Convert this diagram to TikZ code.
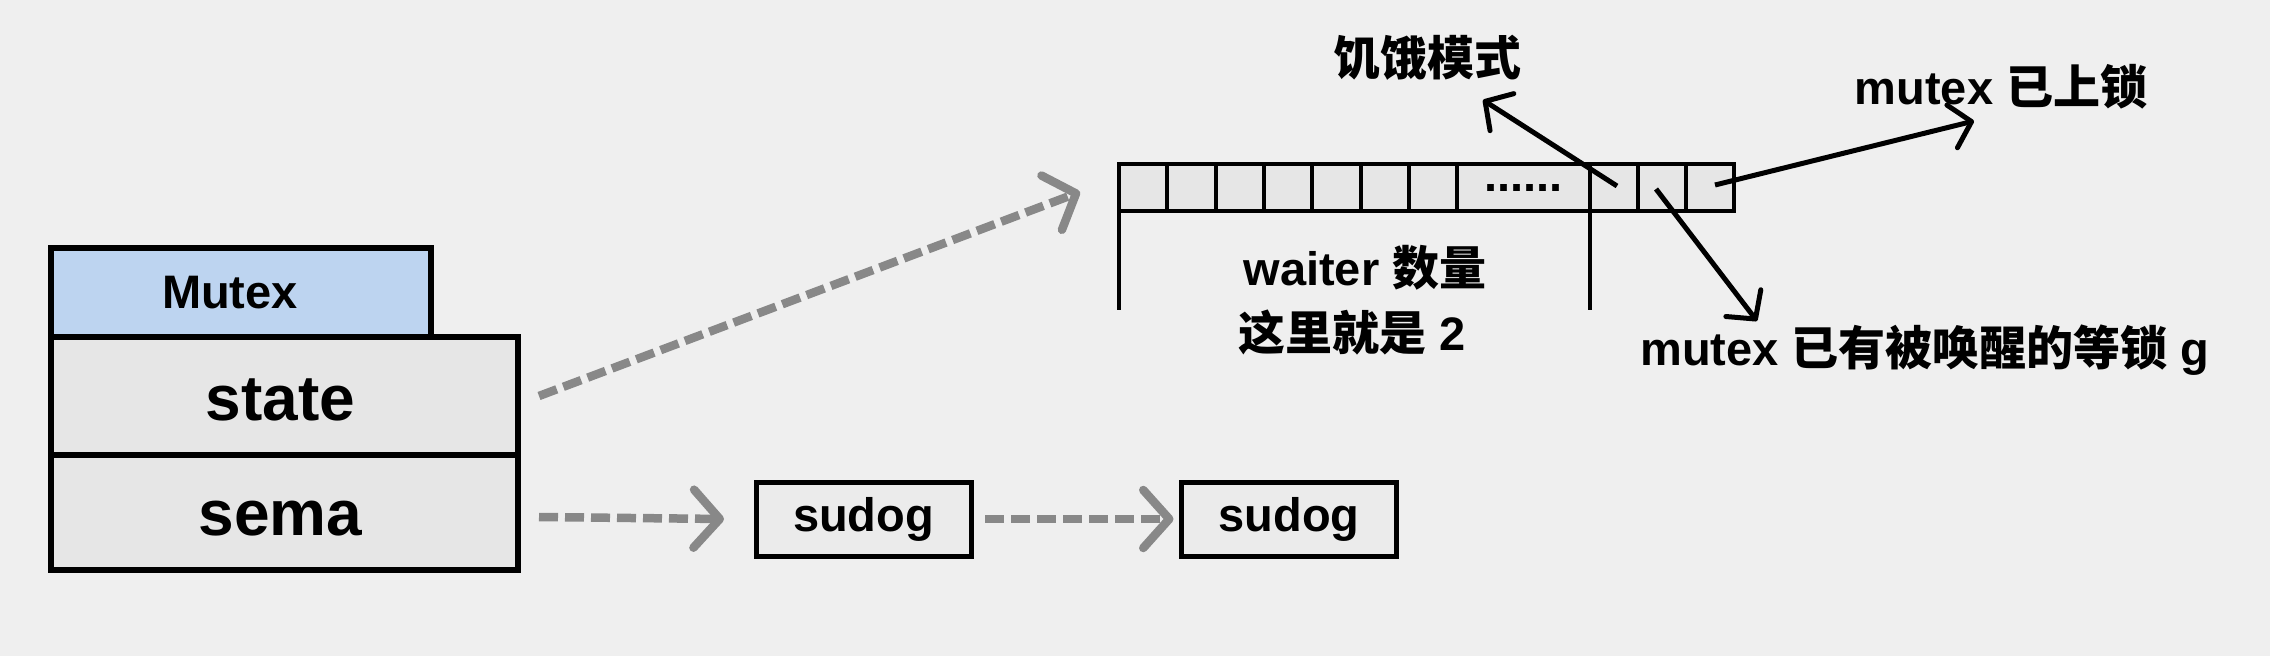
\documentclass[tikz,border=0pt]{standalone}
\usepackage{fontspec}
\setmainfont{Liberation Sans}
\newfontfamily\cjk{Noto Sans CJK SC}
\usetikzlibrary{arrows.meta}
\newcommand{\zh}[1]{{\cjk #1}}
\definecolor{bgc}{HTML}{EFEFEF}
\definecolor{boxc}{HTML}{E6E6E6}
\definecolor{hdrc}{HTML}{BDD4F0}
\definecolor{sudc}{HTML}{EBEBEB}
\definecolor{dashc}{HTML}{888888}
\tikzset{
  lbl/.style={font=\fontsize{47}{56}\selectfont\bfseries, inner sep=0pt},
  big/.style={font=\fontsize{64}{72}\selectfont\bfseries},
  fieldbox/.style={draw=black, line width=6pt, fill=boxc, minimum width=467pt, inner sep=0pt, outer sep=0pt},
  hdrbox/.style={draw=black, line width=6pt, fill=hdrc, minimum width=380pt, minimum height=89pt, inner sep=0pt, outer sep=0pt, font=\fontsize{47}{56}\selectfont\bfseries},
  sudogbox/.style={draw=black, line width=5pt, fill=sudc, minimum width=215pt, minimum height=74pt, inner sep=0pt, outer sep=0pt, font=\fontsize{47}{56}\selectfont\bfseries},
  cell/.style={draw=black, line width=4pt, fill=boxc, minimum height=47pt, inner sep=0pt, outer sep=0pt},
  grayarrow/.style={draw=dashc, line width=8.5pt, dash pattern=on 19pt off 7pt, -{Straight Barb[length=26pt,width=58pt,round]}},
  blackarrow/.style={draw=black, line width=5pt, -{Straight Barb[length=20pt,width=44pt,round]}},
  bracket/.style={draw=black, line width=4pt}
}
\begin{document}
\begin{tikzpicture}[x=1pt,y=-1pt]
\useasboundingbox (0,0) rectangle (2270,656);
\fill[bgc] (0,0) rectangle (2270,656);

% Mutex struct
\node[hdrbox] (hdr) at (241,292.5) {\hspace*{-22pt}Mutex};
\node[fieldbox, minimum height=118pt, big] (state) at (284.5,396) {\raisebox{-4pt}[\height][\depth]{\hspace*{-8pt}state}};
\node[fieldbox, minimum height=115pt, big] (sema) at (284.5,512.5) {\raisebox{-6pt}[\height][\depth]{\hspace*{-8pt}sema}};

% sudogs
\node[sudogbox] (sud1) at (863.5,519) {sudog};
\node[sudogbox] (sud2) at (1289,519) {sudog};

% bit array
\foreach \i in {1,...,7} {
  \node[cell, minimum width=48.3pt] (c\i) at ({1119+48.3*(\i-0.5)},187.5) {};
}
\node[cell, minimum width=133pt, lbl] (dots) at (1523.5,187.5) {......};
\foreach \j/\x in {8/1614,9/1662,10/1710} {
  \node[cell, minimum width=48pt] (c\j) at (\x,187.5) {};
}

% brackets
\coordinate (bl) at (1119,310);
\coordinate (br) at (1590,310);
\draw[bracket] (c1.south west) -- (bl);
\draw[bracket] (dots.south east) -- (br);

% labels
\node[lbl] (waiter) at (1365,268) {waiter \zh{数量}};
\node[lbl] (here) at (1352,333) {\zh{这里就是} 2};
\node[lbl] (starve) at (1427,58) {\zh{饥饿模式}};
\node[lbl] (locked) at (2001,87) {mutex \zh{已上锁}};
\node[lbl] (woken) at (1925,350) {mutex \zh{已有被唤醒的等锁} g};

% black arrows
\coordinate (starveTip) at (1483,100);
\coordinate (lockedTip) at (1974,121);
\coordinate (wokenTip) at (1757,321);
\coordinate (s8) at (1617,186);
\coordinate (s9) at (1656,189);
\coordinate (s10) at (1715,185);
\draw[blackarrow] (s8) -- (starveTip);
\draw[blackarrow] (s10) -- (lockedTip);
\draw[blackarrow] (s9) -- (wokenTip);

% gray dashed arrows
\coordinate (stateTip) at (1080,192);
\coordinate (stateOut) at (539,396);
\coordinate (semaOut) at (539,517);
\draw[grayarrow] (stateOut) -- (stateTip);
\draw[grayarrow] (semaOut) -- ([xshift=-32pt]sud1.west);
\draw[grayarrow] ([xshift=14pt]sud1.east) -- ([xshift=-8pt]sud2.west);
\end{tikzpicture}
\end{document}
